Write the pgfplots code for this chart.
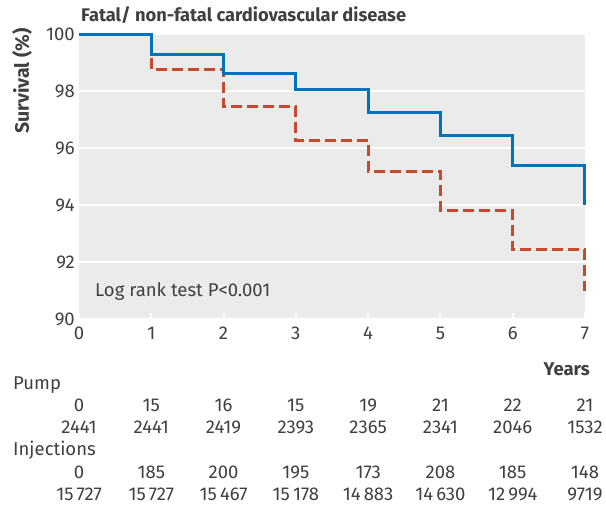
\documentclass[border=0pt]{standalone}
\usepackage{fontspec}
\setmainfont{Fira Sans}
\usepackage{pgfplots}
\pgfplotsset{compat=1.18}
\definecolor{bggrey}{HTML}{EBEBEB}
\definecolor{txt}{HTML}{404040}
\definecolor{pumpblue}{HTML}{0072BC}
\definecolor{injred}{HTML}{C54B2F}
\newcommand\fs{\fontsize{18.5bp}{22bp}\selectfont}
\begin{document}
\begin{tikzpicture}[font=\fs, text=txt]
\useasboundingbox (-79bp,-186bp) rectangle (527bp,319bp);
\begin{axis}[
  at={(0,0)}, anchor=south west, scale only axis,
  width=506bp, height=284.5bp,
  xmin=0, xmax=7, ymin=90, ymax=100,
  xtick={0,1,...,7}, ytick={90,92,...,100},
  /pgf/number format/assume math mode=true,
  axis background/.style={fill=bggrey},
  axis line style={draw=none},
  ymajorgrids, grid style={white, line width=2bp},
  xtick pos=bottom, ytick pos=left,
  tick align=inside, major tick length=6bp,
  x tick style={white, line width=2bp},
  y tick style={draw=none},
  xticklabel style={anchor=center, inner sep=0pt, yshift=-14bp, font=\fs, text=txt},
  yticklabel style={anchor=east, inner sep=0pt, xshift=-4bp, font=\fs, text=txt},
  clip=false,
]
\addplot[const plot, injred, line width=3bp, dash pattern=on 11bp off 5bp] coordinates {
  (0,100) (1,98.76) (2,97.48) (3,96.26) (4,95.17) (5,93.81) (6,92.44) (7,90.98)};
\addplot[const plot, pumpblue, line width=3bp] coordinates {
  (0,100) (1,99.31) (2,98.64) (3,98.05) (4,97.25) (5,96.45) (6,95.38) (7,94.0)};
\end{axis}
\node[anchor=base west, inner sep=0pt, font=\fontsize{18.3bp}{22bp}\selectfont\bfseries] at (2bp,297.5bp) {Fatal/ non-fatal cardiovascular disease};
\node[anchor=east, inner sep=0pt, rotate=90, font=\fontsize{19.5bp}{22bp}\selectfont\bfseries] at (-57bp,291bp) {Survival (\%)};
\node[anchor=base west, inner sep=0pt] at (16bp,23bp) {Log rank test P<0.001};
\node[anchor=base east, inner sep=0pt, font=\fs\bfseries] at (511bp,-56bp) {Years};
\node[anchor=base west, inner sep=0pt] at (-66bp,-70bp) {Pump};
\node[anchor=base west, inner sep=0pt] at (-66bp,-136bp) {Injections};
\foreach \x/\v in {0/0,1/15,2/16,3/15,4/19,5/21,6/22,7/21}
  \node[anchor=base, inner sep=0pt] at (\x*72.2857bp,-92bp) {\v};
\foreach \x/\v in {0/2441,1/2441,2/2419,3/2393,4/2365,5/2341,6/2046,7/1532}
  \node[anchor=base, inner sep=0pt] at (\x*72.2857bp,-114bp) {\v};
\foreach \x/\v in {0/0,1/185,2/200,3/195,4/173,5/208,6/185,7/148}
  \node[anchor=base, inner sep=0pt] at (\x*72.2857bp,-159bp) {\v};
\foreach \x/\v in {0/15\,727,1/15\,727,2/15\,467,3/15\,178,4/14\,883,5/14\,630,6/12\,994,7/9719}
  \node[anchor=base, inner sep=0pt] at (\x*72.2857bp,-181bp) {\v};
\end{tikzpicture}
\end{document}
